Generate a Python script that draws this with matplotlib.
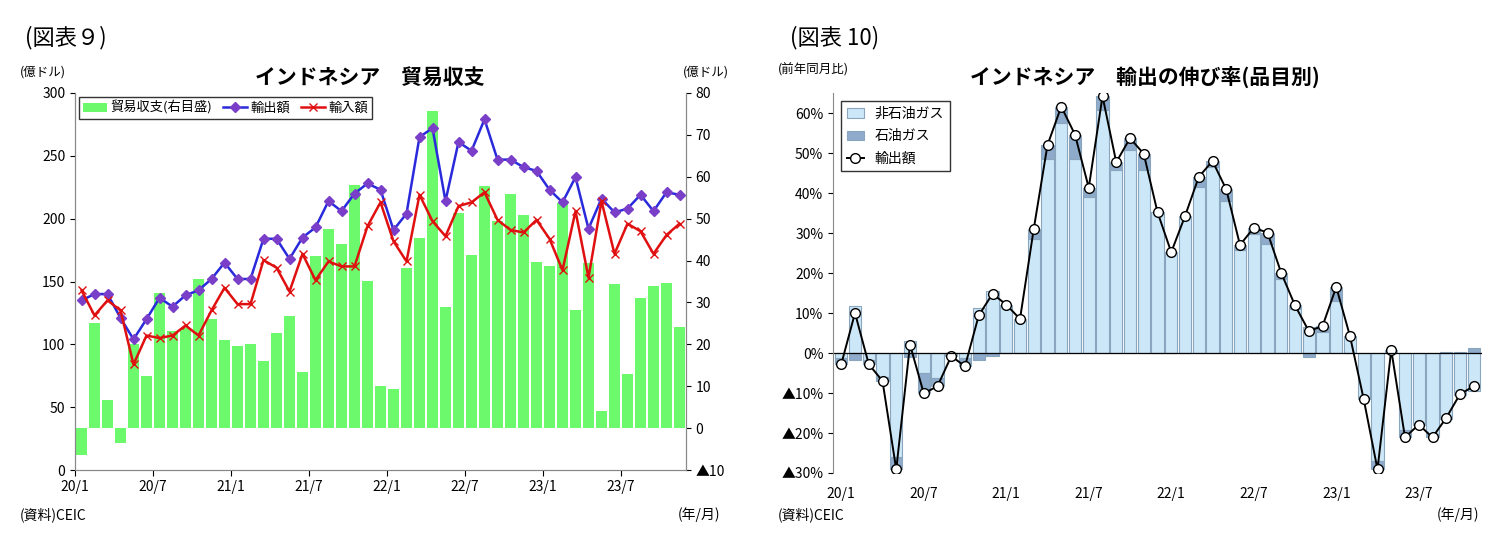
import matplotlib
matplotlib.use("Agg")
import matplotlib.pyplot as plt
import numpy as np

plt.rcParams["font.family"] = ["Noto Sans CJK JP", "DejaVu Sans"]

tick_labels = ["20/1", "20/7", "21/1", "21/7", "22/1", "22/7", "23/1", "23/7"]

balance = [-6.4, 25.1, 6.8, -3.6, 20.0, 12.4, 32.2, 23.1, 24.0, 35.7, 26.0, 21.0, 19.7, 20.0,
           16.0, 22.6, 26.7, 13.3, 41.1, 47.6, 43.9, 58.0, 35.1, 10.0, 9.4, 38.3, 45.3, 75.6,
           29.0, 51.3, 41.3, 57.7, 49.4, 55.8, 50.8, 39.6, 38.8, 53.7, 28.3, 39.3, 4.2, 34.4,
           12.9, 31.1, 33.9, 34.7, 24.1]
exports = [135, 140, 140, 121, 104, 120, 137, 130, 139, 143, 152, 165, 152, 152, 184, 184,
           168, 185, 193, 214, 206, 220, 228, 223, 191, 204, 265, 272, 214, 261, 254, 279,
           247, 247, 241, 238, 223, 213, 233, 192, 216, 205, 208, 219, 206, 221, 219]
imports = [143, 123, 135, 127, 84, 107, 105, 107, 115, 107, 127, 145, 132, 132, 167, 161,
           142, 172, 151, 166, 162, 162, 194, 213, 182, 166, 219, 198, 186, 210, 213, 221,
           199, 191, 189, 199, 184, 159, 206, 153, 214, 172, 196, 190, 172, 187, 196]

total_growth = [-2.8, 10.0, -2.8, -7.0, -29.1, 2.1, -10.1, -8.3, -0.8, -3.3, 9.4, 14.8, 12.1,
                8.5, 31.0, 52.0, 61.6, 54.6, 41.3, 64.2, 47.7, 53.7, 49.8, 35.2, 25.2, 34.2,
                44.0, 48.0, 40.9, 27.0, 31.3, 30.1, 20.0, 11.9, 5.5, 6.7, 16.5, 4.2, -11.6,
                -29.1, 0.8, -21.1, -17.9, -21.1, -16.2, -10.3, -8.3]
oil_gas = [-1.5, -1.8, -1.0, -1.0, -3.0, -1.0, -5.0, -2.0, -0.3, -2.0, -1.8, -0.7, 0.0, 0.0,
           2.5, 3.5, 4.0, 6.0, 2.3, 3.5, 2.0, 3.0, 4.0, 0.0, 0.0, 0.0, 2.6, 1.5, 3.0, 1.2,
           1.5, 2.8, 1.6, 0.9, -1.0, 1.5, 3.4, 0.0, -0.6, -2.0, 0.8, -1.8, -0.4, -0.8, 0.3,
           0.2, 1.2]
non_oil = [t - o for t, o in zip(total_growth, oil_gas)]

n = len(exports)
x = np.arange(n)
tick_pos = np.arange(0, n, 6)

fig = plt.figure(figsize=(15.09, 5.53), dpi=100)
W, H = 1509, 553

def ax_rect(l, t, r, b):
    return [l / W, 1 - b / H, (r - l) / W, (b - t) / H]

# ---------- Left chart ----------
ax1 = fig.add_axes(ax_rect(75, 93, 686, 470))
ax2 = ax1.twinx()
ax1.set_zorder(ax2.get_zorder() + 1)
ax1.patch.set_visible(False)

bars = ax2.bar(x, balance, width=0.78, color="#6cf96c", zorder=1, label="貿易収支(右目盛)")
ax2.set_ylim(-10, 80)
ax2.set_yticks(np.arange(-10, 81, 10))
ax2.set_yticklabels(["▲10"] + [str(v) for v in range(0, 81, 10)], fontsize=10)

l1, = ax1.plot(x, exports, color="#2a2adc", lw=1.8, marker="D", ms=5.5,
               mfc="#7a3fc8", mec="#7a3fc8", label="輸出額")
l2, = ax1.plot(x, imports, color="#e01010", lw=1.8, marker="x", ms=6, mew=1.0,
               label="輸入額")
ax1.set_ylim(0, 300)
ax1.set_yticks(np.arange(0, 301, 50))
ax1.tick_params(axis="y", labelsize=10)
ax1.set_xlim(-0.5, n - 0.5)
ax1.set_xticks(tick_pos - 0.5)
ax1.set_xticklabels(tick_labels, fontsize=10)
ax1.tick_params(axis="x", length=4, direction="out")
for a in (ax1, ax2):
    a.spines["top"].set_visible(False)
    a.spines["left"].set_color("#888888")
    a.spines["right"].set_color("#888888")
    a.spines["bottom"].set_color("#888888")
ax1.legend([bars, l1, l2], ["貿易収支(右目盛)", "輸出額", "輸入額"], loc="upper left",
           ncol=3, fontsize=9.5, frameon=True, fancybox=False, edgecolor="black",
           handlelength=1.8, handletextpad=0.3, columnspacing=0.8, borderaxespad=0.3,
           borderpad=0.3, bbox_to_anchor=(0.0, 1.0))

fig.text(25 / W, 1 - 38 / H, "(図表９)", fontsize=16, va="center")
fig.text(370 / W, 1 - 77 / H, "インドネシア　貿易収支", fontsize=15, fontweight="bold",
         ha="center", va="center")
fig.text(20 / W, 1 - 72 / H, "(億ドル)", fontsize=9, va="center")
fig.text(683 / W, 1 - 72 / H, "(億ドル)", fontsize=9, va="center")
fig.text(20 / W, 1 - 515 / H, "(資料)CEIC", fontsize=10, va="center")
fig.text(678 / W, 1 - 515 / H, "(年/月)", fontsize=10, va="center")

# ---------- Right chart ----------
ax3 = fig.add_axes(ax_rect(833, 93, 1482, 473))
nb = ax3.bar(x, non_oil, width=0.9, color="#cce8f8", edgecolor="#8aa6bf", lw=0.8,
             label="非石油ガス")
oil_bottom = [no if (no * o > 0) else 0 for no, o in zip(non_oil, oil_gas)]
ob = ax3.bar(x, oil_gas, bottom=oil_bottom, width=0.9, color="#8eabcb",
             edgecolor="#8aa6bf", lw=0.8, label="石油ガス")
tl, = ax3.plot(x, total_growth, color="black", lw=1.4, marker="o", ms=7,
               mfc="white", mec="black", mew=1.0, label="輸出額")
ax3.axhline(0, color="black", lw=0.9)
ax3.set_ylim(-30, 65)
ax3.set_yticks(np.arange(-30, 61, 10))
ax3.set_yticklabels([("▲%d%%" % -v) if v < 0 else ("%d%%" % v) for v in range(-30, 61, 10)],
                    fontsize=10)
ax3.set_xlim(-0.6, n - 0.4)
ax3.set_xticks(tick_pos)
ax3.set_xticklabels(tick_labels, fontsize=10)
ax3.tick_params(axis="x", length=0, pad=10)
for s in ("top", "right", "bottom"):
    ax3.spines[s].set_visible(False)
ax3.spines["left"].set_color("#888888")
ax3.legend([nb, ob, tl], ["非石油ガス", "石油ガス", "輸出額"], loc="upper left",
           fontsize=10, frameon=True, fancybox=False, edgecolor="black",
           handlelength=1.2, borderaxespad=0.6, labelspacing=0.6)

fig.text(790 / W, 1 - 38 / H, "(図表 10)", fontsize=16, va="center")
fig.text(1145 / W, 1 - 77 / H, "インドネシア　輸出の伸び率(品目別)", fontsize=15,
         fontweight="bold", ha="center", va="center")
fig.text(778 / W, 1 - 70 / H, "(前年同月比)", fontsize=9, va="center")
fig.text(778 / W, 1 - 515 / H, "(資料)CEIC", fontsize=10, va="center")
fig.text(1437 / W, 1 - 515 / H, "(年/月)", fontsize=10, va="center")

fig.savefig("out.png", dpi=100)
